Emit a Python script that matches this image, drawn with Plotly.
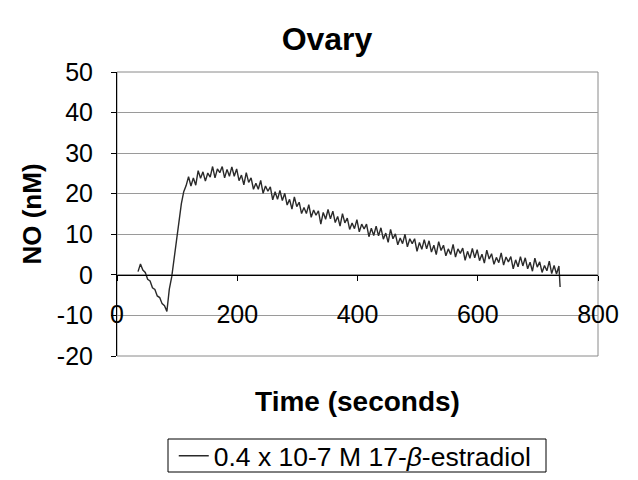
import plotly.graph_objects as go

time_s = [35, 39, 43, 47, 51, 55, 59, 63, 67, 71,
          75, 79, 83, 87, 91, 95, 99, 103, 107, 111,
          115, 119, 123, 127, 131, 135, 139, 143, 147, 151,
          155, 159, 163, 167, 171, 175, 179, 183, 187, 191,
          195, 199, 203, 207, 211, 215, 219, 223, 227, 231,
          235, 239, 243, 247, 251, 255, 259, 263, 267, 271,
          275, 279, 283, 287, 291, 295, 299, 303, 307, 311,
          315, 319, 323, 327, 331, 335, 339, 343, 347, 351,
          355, 359, 363, 367, 371, 375, 379, 383, 387, 391,
          395, 399, 403, 407, 411, 415, 419, 423, 427, 431,
          435, 439, 443, 447, 451, 455, 459, 463, 467, 471,
          475, 479, 483, 487, 491, 495, 499, 503, 507, 511,
          515, 519, 523, 527, 531, 535, 539, 543, 547, 551,
          555, 559, 563, 567, 571, 575, 579, 583, 587, 591,
          595, 599, 603, 607, 611, 615, 619, 623, 627, 631,
          635, 639, 643, 647, 651, 655, 659, 663, 667, 671,
          675, 679, 683, 687, 691, 695, 699, 703, 707, 711,
          715, 719, 723, 727, 731, 735, 737]

no_nm = [0.8, 2.7, 1.2, 0.6, -1.1, -1.5, -3.2, -3.6, -5.2, -5.6,
         -7.1, -7.6, -9.0, -3.5, -0.5, 3.5, 8.5, 13.0, 17.5, 20.5,
         22.0, 24.2, 21.9, 23.9, 22.1, 25.7, 23.8, 25.4, 23.1, 25.1,
         24.1, 26.7, 23.9, 26.1, 25.2, 26.7, 23.9, 26.0, 24.3, 26.6,
         24.3, 26.1, 23.2, 24.6, 22.2, 25.2, 22.8, 23.9, 21.1, 22.6,
         21.1, 23.3, 20.1, 21.9, 20.6, 21.7, 18.5, 20.5, 18.6, 20.8,
         18.3, 20.1, 17.2, 18.6, 16.2, 19.2, 16.8, 17.9, 15.1, 16.6,
         15.1, 17.3, 14.2, 16.0, 14.7, 15.8, 12.5, 15.4, 13.7, 16.1,
         13.8, 15.7, 12.9, 14.4, 12.0, 15.1, 12.8, 14.0, 11.2, 12.8,
         11.4, 13.6, 10.6, 12.5, 11.3, 12.5, 9.4, 11.5, 9.7, 12.0,
         9.6, 11.6, 8.8, 10.3, 8.0, 11.2, 8.9, 10.1, 7.4, 9.1,
         7.7, 10.0, 6.9, 8.9, 7.7, 8.9, 5.8, 8.0, 6.3, 8.7,
         6.4, 8.4, 5.6, 7.3, 5.0, 8.2, 6.0, 7.3, 4.7, 6.4,
         5.0, 7.5, 4.4, 6.4, 5.3, 6.6, 3.6, 5.8, 4.1, 6.5,
         4.2, 6.2, 3.5, 5.1, 2.9, 6.1, 3.9, 5.2, 2.6, 4.3,
         3.0, 5.4, 2.4, 4.4, 3.2, 4.5, 1.5, 3.7, 2.0, 4.5,
         2.2, 4.2, 1.5, 3.1, 0.9, 4.1, 1.9, 3.2, 0.6, 2.3,
         1.0, 3.4, 0.3, 2.3, 0.2, 2.2, -3.0]

series_name = "0.4 x 10-7 M 17-<i>β</i>-estradiol"
x_ticks = [0, 200, 400, 600, 800]
y_ticks = [-20, -10, 0, 10, 20, 30, 40, 50]
y_tick_text = ["-20", "-10", "0", "10", "20", "30", "40", "50"]

FONT = "Arial, Liberation Sans, sans-serif"

# The page body adds an 8px offset, so the figure is 630x472 and left/top margins are trimmed by 8px
W, H = 630, 472
PLOT_H = 284

fig = go.Figure()
fig.add_trace(go.Scatter(x=time_s, y=no_nm, mode="lines", name=series_name,
                         line=dict(color="#2a2a2a", width=1.4), showlegend=True))

fig.update_layout(
    width=W, height=H,
    margin=dict(l=109, r=40, t=64, b=124),
    paper_bgcolor="white", plot_bgcolor="white",
    font=dict(family=FONT, size=25, color="black"),
    title=dict(text="<b>Ovary</b>", x=319 / W, xanchor="center", y=1 - 31 / H, yanchor="middle",
               font=dict(family=FONT, size=32, color="black")),
    xaxis=dict(range=[0, 800], tickvals=x_ticks, showgrid=False, zeroline=False,
               anchor="free", position=20 / 70, automargin=False,
               showline=True, linecolor="black", linewidth=1,
               ticks="outside", ticklen=5, tickcolor="black",
               ticklabelstandoff=12, tickfont=dict(size=25),
               title=dict(text="<b>Time (seconds)</b>", standoff=64,
                          font=dict(family=FONT, size=28, color="black"))),
    yaxis=dict(range=[-20, 50], tickvals=y_ticks, ticktext=y_tick_text,
               showgrid=True, gridcolor="#9a9a9a", gridwidth=1, automargin=False,
               zeroline=False, showline=True, linecolor="black", linewidth=1,
               ticks="outside", ticklen=5, tickcolor="black", ticklabelstandoff=13,
               tickfont=dict(size=25),
               title=dict(text="<b>NO (nM)</b>", standoff=7,
                          font=dict(family=FONT, size=26, color="black"))),
    legend=dict(orientation="h", x=0.118, xanchor="left",
                yref="container", y=1 - 448 / H, yanchor="middle",
                borderwidth=0, bgcolor="rgba(0,0,0,0)", itemwidth=30,
                font=dict(family=FONT, size=26.5, color="black")),
    shapes=[
        dict(type="rect", xref="paper", yref="paper", x0=0, x1=1, y0=0, y1=1,
             line=dict(color="#8a8a8a", width=1), layer="below"),
        dict(type="rect", xref="paper", yref="paper",
             x0=51 / 481, x1=429 / 481, y0=-116 / PLOT_H, y1=-83 / PLOT_H,
             line=dict(color="black", width=1), layer="below"),
    ],
)

fig.write_html("out.html")
